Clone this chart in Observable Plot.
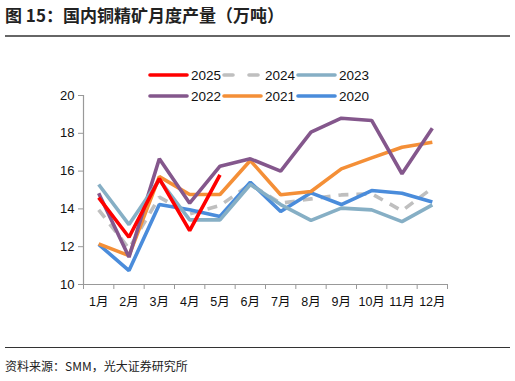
<!DOCTYPE html>
<html><head><meta charset="utf-8">
<script src="https://cdn.jsdelivr.net/npm/d3@7"></script>
<script src="https://cdn.jsdelivr.net/npm/@observablehq/plot@0.6"></script>
<style>
body{margin:0;background:#fff;font-family:"Liberation Sans","Noto Sans CJK SC",sans-serif;}
#wrap{position:relative;width:515px;height:381px;overflow:hidden;}
#title{position:absolute;left:5px;top:2px;font-size:17px;font-weight:bold;font-family:"Noto Sans CJK SC",sans-serif;color:#222;}
#hr1{position:absolute;left:5px;top:35px;width:505px;height:2px;background:#666;}
#hr2{position:absolute;left:5px;top:347px;width:505px;height:1px;background:#333;}
#src{position:absolute;left:5px;top:357px;font-size:12px;font-family:"Noto Sans CJK SC",sans-serif;color:#222;}
#chart{position:absolute;left:0;top:40px;}
#legend{position:absolute;left:0;top:0;}
</style></head>
<body><div id="wrap">
<div id="title">图 15：国内铜精矿月度产量（万吨）</div>
<div id="hr1"></div>
<div id="chart"></div>
<div id="hr2"></div>
<div id="src">资料来源：SMM，光大证券研究所</div>
</div>
<script>
const months = ["1月","2月","3月","4月","5月","6月","7月","8月","9月","10月","11月","12月"];
const years = ["2025","2024","2023","2022","2021","2020"];
const colors = ["#FF0000","#BFBFBF","#86AFC5","#84578C","#F48F37","#4A8CDB"];
const v2025 = [14.6, 12.5, 15.6, 12.85, 15.8];
const v2024 = [13.95, 11.9, 14.62, 13.74, 14.18, 15.3, 14.3, 14.53, 14.74, 14.8, 13.9, 15.1];
const v2023 = [15.29, 13.17, 15.54, 13.42, 13.42, 15.29, 14.23, 13.39, 14.04, 13.95, 13.33, 14.21];
const v2022 = [14.83, 11.45, 16.65, 14.3, 16.26, 16.65, 16.0, 18.06, 18.8, 18.68, 15.86, 18.27];
const v2021 = [12.15, 11.53, 15.71, 14.76, 14.76, 16.56, 14.75, 14.92, 16.12, 16.7, 17.26, 17.53];
const v2020 = [12.12, 10.74, 14.23, 13.95, 13.6, 15.41, 13.86, 14.85, 14.23, 14.97, 14.83, 14.36];
const yTicks = [10, 12, 14, 16, 18, 20];

const seriesVals = {"2025": v2025, "2024": v2024, "2023": v2023, "2022": v2022, "2021": v2021, "2020": v2020};
const colorOf = Object.fromEntries(years.map((y, i) => [y, colors[i]]));
const rows = y => seriesVals[y].map((v, i) => ({m: i + 1, v, year: y}));
const drawOrder = ["2024", "2020", "2021", "2022", "2023", "2025"];

const lineMarks = drawOrder.map(y => Plot.line(rows(y), {
  x: "m", y: "v", stroke: colorOf[y], strokeWidth: 3.6,
  strokeDasharray: y === "2024" ? "10,8" : null, strokeLinejoin: "miter", strokeLinecap: "butt"
}));

const boundaries = d3.range(0.5, 13, 1);

const plot = Plot.plot({
  width: 515, height: 300,
  marginTop: 55, marginBottom: 56, marginLeft: 83, marginRight: 68,
  style: {fontFamily: "Liberation Sans, Arial, sans-serif", fontSize: "13px", color: "#111"},
  x: {domain: [0.5, 12.5]},
  y: {domain: [10, 20]},
  marks: [
    Plot.ruleX([0.5], {stroke: "#999", strokeWidth: 1.2}),
    Plot.ruleY([10], {stroke: "#999", strokeWidth: 1.2}),
    Plot.axisY({ticks: yTicks, tickSize: 5, tickPadding: 4, stroke: "#999", label: null, fontSize: 13}),
    Plot.axisX({ticks: boundaries, tickSize: 5, tickFormat: () => "", stroke: "#999", label: null}),
    Plot.axisX({ticks: d3.range(1, 13), tickSize: 0, tickPadding: 13, tickFormat: d => months[d - 1], label: null, fontSize: 12.5, fontFamily: "Liberation Sans, Noto Sans CJK SC, sans-serif"}),
    ...lineMarks
  ]
});
document.getElementById("chart").appendChild(plot);

// legend
const svgNS = "http://www.w3.org/2000/svg";
const leg = document.createElementNS(svgNS, "svg");
leg.setAttribute("id", "legend");
leg.setAttribute("width", 515); leg.setAttribute("height", 120);
const colX = [150, 224, 298];
const rowY = [75, 96];
years.forEach((y, i) => {
  const cx = colX[i % 3], cy = rowY[Math.floor(i / 3)];
  const ln = document.createElementNS(svgNS, "line");
  ln.setAttribute("x1", cx); ln.setAttribute("x2", cx + 37);
  ln.setAttribute("y1", cy); ln.setAttribute("y2", cy);
  ln.setAttribute("stroke", colorOf[y]); ln.setAttribute("stroke-width", 3.6);
  ln.setAttribute("stroke-linecap", "round");
  if (y === "2024") ln.setAttribute("stroke-dasharray", "9,16");
  leg.appendChild(ln);
  const t = document.createElementNS(svgNS, "text");
  t.setAttribute("x", cx + 41); t.setAttribute("y", cy + 5);
  t.setAttribute("font-size", 13.5); t.setAttribute("font-family", "Liberation Sans, Arial, sans-serif");
  t.setAttribute("fill", "#111");
  t.textContent = y;
  leg.appendChild(t);
});
document.getElementById("wrap").appendChild(leg);
</script>
</body></html>
